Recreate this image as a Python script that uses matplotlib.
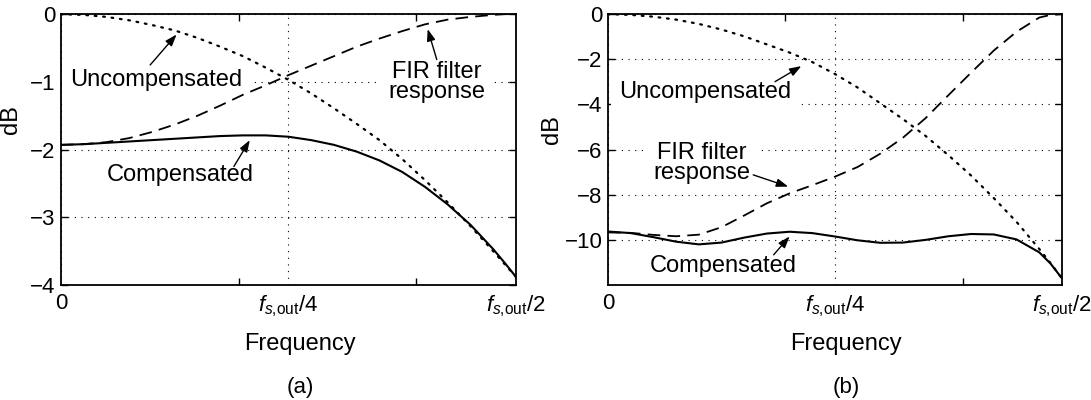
import matplotlib
matplotlib.use('Agg')
import matplotlib.pyplot as plt

plt.rcParams['font.family'] = ['Liberation Sans', 'DejaVu Sans']
plt.rcParams['mathtext.fontset'] = 'custom'
plt.rcParams['mathtext.rm'] = 'Liberation Sans'
plt.rcParams['mathtext.it'] = 'Liberation Sans:italic'

# frequency as a fraction of fs,out (0 .. fs,out/2)
freq = [0.0, 0.025, 0.05, 0.075, 0.1, 0.125, 0.15, 0.175, 0.2, 0.225, 0.25,
        0.275, 0.3, 0.325, 0.35, 0.375, 0.4, 0.425, 0.45, 0.475, 0.4875, 0.5]

# (a) values in dB
unc_a = [0.0, -0.01, -0.04, -0.09, -0.16, -0.24, -0.35, -0.48, -0.62, -0.79, -0.97,
         -1.17, -1.39, -1.62, -1.86, -2.14, -2.45, -2.78, -3.13, -3.50, -3.69, -3.88]
fir_a = [-1.93, -1.92, -1.89, -1.83, -1.74, -1.63, -1.50, -1.35, -1.19, -1.05, -0.90,
         -0.76, -0.62, -0.48, -0.36, -0.25, -0.15, -0.08, -0.04, -0.01, 0.0, 0.0]
comp_a = [-1.93, -1.92, -1.90, -1.88, -1.86, -1.84, -1.82, -1.80, -1.79, -1.79, -1.81,
          -1.86, -1.93, -2.03, -2.16, -2.33, -2.55, -2.81, -3.11, -3.47, -3.67, -3.88]

# (b)
unc_b = [0.0, -0.03, -0.11, -0.24, -0.43, -0.68, -0.98, -1.34, -1.70, -2.12, -2.65,
         -3.25, -3.95, -4.65, -5.40, -6.25, -7.15, -8.15, -9.20, -10.40, -11.03, -11.70]
fir_b = [-9.67, -9.69, -9.78, -9.84, -9.77, -9.44, -8.92, -8.38, -7.94, -7.58, -7.20,
         -6.77, -6.18, -5.47, -4.60, -3.59, -2.59, -1.61, -0.78, -0.15, -0.03, 0.0]
comp_b = [-9.63, -9.70, -9.88, -10.08, -10.20, -10.12, -9.90, -9.72, -9.64, -9.70, -9.85,
          -10.02, -10.13, -10.12, -10.00, -9.84, -9.74, -9.76, -9.98, -10.55, -11.05, -11.70]

xtick_labels = ['0', r'$f_{s{,}\mathrm{out}}$/4', r'$f_{s{,}\mathrm{out}}$/2']


def setup(ax, ylim, yticks):
    ax.set_xlim(0, 0.5)
    ax.set_ylim(ylim)
    ax.set_yticks(yticks)
    ax.set_xticks([0, 0.25, 0.5], xtick_labels)
    ax.set_xticks([0.1953, 0.3906], minor=True)
    ax.tick_params(axis='x', which='major', length=0, pad=6, labelsize=16)
    ax.tick_params(axis='x', which='minor', direction='in', length=5, top=True, bottom=True, width=1)
    ax.tick_params(axis='y', direction='in', length=5, left=True, right=True, labelsize=16, pad=4, width=1)
    ax.grid(True, which='major', linestyle=(0, (1, 5)), color='k', lw=0.8)
    for s in ax.spines.values():
        s.set_linewidth(1.3)
    ax.set_ylabel('dB', fontsize=17)


def curves(ax, unc, fir, comp):
    ax.plot(freq, unc, color='k', lw=1.6, linestyle=(0, (0.8, 3.0)), dash_capstyle='round', zorder=3)
    ax.plot(freq, fir, color='k', lw=1.3, linestyle=(0, (7, 4)), zorder=3)
    ax.plot(freq, comp, color='k', lw=1.5, zorder=3)


def label(ax, txt, pos, tail, tip):
    ax.text(pos[0], pos[1], txt, ha='center', va='center', fontsize=17, linespacing=0.9,
            bbox=dict(facecolor='white', edgecolor='none', pad=6), zorder=2.5)
    ax.annotate('', xy=tip, xytext=tail,
                arrowprops=dict(arrowstyle='-|>,head_length=0.7,head_width=0.25', color='k',
                                lw=1, shrinkA=0, shrinkB=0), zorder=4)


fig = plt.figure(figsize=(10.91, 4.0), dpi=100)
ax1 = fig.add_axes([0.0559, 0.2875, 0.417, 0.677])
ax2 = fig.add_axes([0.5573, 0.2875, 0.416, 0.677])

setup(ax1, (-4, 0), [0, -1, -2, -3, -4])
curves(ax1, unc_a, fir_a, comp_a)
label(ax1, 'Uncompensated', (0.105, -0.97), (0.098, -0.75), (0.127, -0.30))
label(ax1, 'FIR filter\nresponse', (0.413, -1.0), (0.413, -0.67), (0.403, -0.22))
label(ax1, 'Compensated', (0.131, -2.37), (0.19, -2.25), (0.2075, -1.86))
ax1.yaxis.set_label_coords(-0.085, 0.611)

setup(ax2, (-12, 0), [0, -2, -4, -6, -8, -10])
curves(ax2, unc_b, fir_b, comp_b)
label(ax2, 'Uncompensated', (0.107, -3.43), (0.184, -2.99), (0.213, -2.3))
label(ax2, 'FIR filter\nresponse', (0.103, -6.6), (0.16, -7.12), (0.1985, -7.64))
label(ax2, 'Compensated', (0.127, -11.18), (0.1825, -10.66), (0.2, -9.85))
ax2.yaxis.set_label_coords(-0.1, 0.573)

fig.text(0.275, 0.14, 'Frequency', ha='center', va='center', fontsize=17)
fig.text(0.7754, 0.14, 'Frequency', ha='center', va='center', fontsize=17)
fig.text(0.275, 0.03, '(a)', ha='center', va='center', fontsize=16)
fig.text(0.7754, 0.03, '(b)', ha='center', va='center', fontsize=16)

fig.savefig('out.png', dpi=100)
